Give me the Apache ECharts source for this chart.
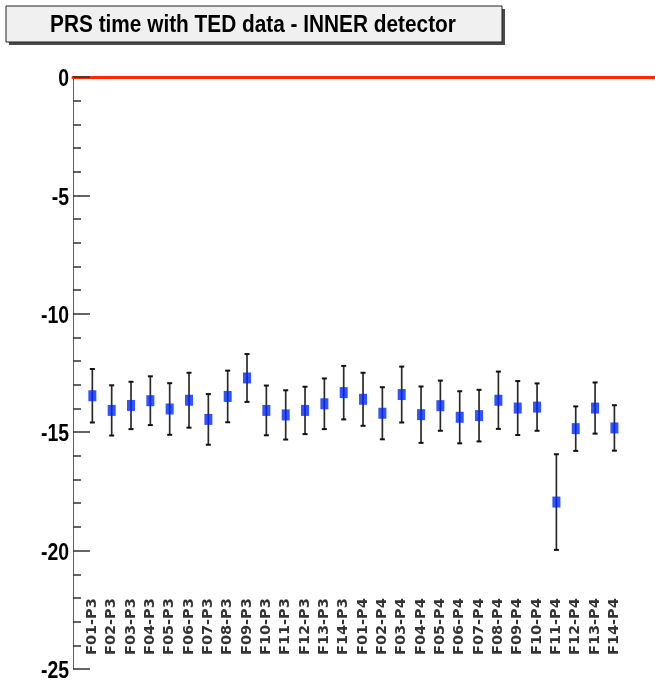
<!DOCTYPE html>
<html>
<head>
<meta charset="utf-8">
<script src="https://cdn.jsdelivr.net/npm/echarts@6/dist/echarts.min.js"></script>
<style>
  html, body { margin: 0; padding: 0; background: #fff; }
  #chart { width: 655px; height: 685px; }
</style>
</head>
<body>
<div id="chart"></div>
<script>
// PRS time per front-end board (TED data, inner detector)
const titleText = 'PRS time with TED data - INNER detector';

const categories = [
  'F01-P3', 'F02-P3', 'F03-P3', 'F04-P3', 'F05-P3', 'F06-P3', 'F07-P3',
  'F08-P3', 'F09-P3', 'F10-P3', 'F11-P3', 'F12-P3', 'F13-P3', 'F14-P3',
  'F01-P4', 'F02-P4', 'F03-P4', 'F04-P4', 'F05-P4', 'F06-P4', 'F07-P4',
  'F08-P4', 'F09-P4', 'F10-P4', 'F11-P4', 'F12-P4', 'F13-P4', 'F14-P4'
];

const meanTime = [
  -13.46, -14.08, -13.87, -13.67, -14.02, -13.65, -14.46,
  -13.49, -12.71, -14.08, -14.27, -14.08, -13.80, -13.33,
  -13.61, -14.20, -13.41, -14.26, -13.88, -14.37, -14.30,
  -13.65, -13.98, -13.94, -17.95, -14.85, -13.98, -14.82
];

const timeError = [
  1.13, 1.06, 1.00, 1.03, 1.09, 1.16, 1.07,
  1.09, 1.01, 1.05, 1.04, 1.00, 1.07, 1.13,
  1.12, 1.10, 1.18, 1.19, 1.06, 1.10, 1.09,
  1.21, 1.14, 1.00, 2.02, 0.94, 1.08, 0.96
];

const yTicks = [0, -5, -10, -15, -20, -25];
const labelBaseline = -24.41;

const boldSans = '"Liberation Sans", Arial, sans-serif';
const frameRed = '#d8321f';

const chart = echarts.init(document.getElementById('chart'), null, { renderer: 'canvas' });

const points = meanTime.map((v, i) => [i + 1, v]);
const bars = meanTime.map((v, i) => [i + 1, v - timeError[i], v + timeError[i]]);
const nameMarks = categories.map((c, i) => ({ value: [i + 1, labelBaseline], name: c }));
const tickMarks = yTicks.map(v => [0, v]);

chart.setOption({
  animation: false,
  backgroundColor: '#ffffff',
  grid: { left: 73, right: 0, top: 77, bottom: 16, containLabel: false },
  xAxis: [
    {
      type: 'value', min: 0, max: 30.1, position: 'bottom',
      axisLine: { show: true, lineStyle: { color: frameRed, width: 1.5 } },
      axisTick: { show: false }, axisLabel: { show: false }, splitLine: { show: false }
    },
    {
      type: 'value', min: 0, max: 30.1, position: 'top',
      axisLine: { show: true, lineStyle: { color: '#ff2a00', width: 3 } },
      axisTick: { show: false }, axisLabel: { show: false }, splitLine: { show: false }
    }
  ],
  yAxis: {
    type: 'value', min: -25, max: 0, interval: 5,
    axisLine: { show: true, lineStyle: { color: frameRed, width: 1 } },
    axisTick: { show: true, inside: true, length: 17, lineStyle: { color: '#333', width: 1.5 } },
    minorTick: { show: true, splitNumber: 5, length: 8, lineStyle: { color: '#333', width: 1.5 } },
    splitLine: { show: false },
    axisLabel: { show: false }
  },
  series: [
    {
      // condensed bold tick labels on the time axis
      type: 'custom',
      name: 'ticklabels',
      xAxisIndex: 0,
      data: tickMarks,
      clip: false,
      silent: true,
      renderItem: function (params, api) {
        const v = api.value(1);
        const p = api.coord([0, v]);
        return {
          type: 'text',
          x: p[0] - 4,
          y: p[1] + 2.5,
          scaleX: 0.81,
          style: {
            text: String(v),
            font: 'bold 24px ' + boldSans,
            fill: '#000',
            textAlign: 'right',
            textVerticalAlign: 'middle'
          }
        };
      }
    },
    {
      type: 'custom',
      name: 'error',
      xAxisIndex: 0,
      data: bars,
      renderItem: function (params, api) {
        const x = api.value(0);
        const lo = api.coord([x, api.value(1)]);
        const hi = api.coord([x, api.value(2)]);
        const capStyle = { stroke: '#111', lineWidth: 2 };
        return {
          type: 'group',
          children: [
            { type: 'line', shape: { x1: lo[0], y1: lo[1], x2: hi[0], y2: hi[1] }, style: { stroke: '#2b2b2b', lineWidth: 1.7 } },
            { type: 'line', shape: { x1: lo[0] - 2.5, y1: lo[1], x2: lo[0] + 2.5, y2: lo[1] }, style: capStyle },
            { type: 'line', shape: { x1: hi[0] - 2.5, y1: hi[1], x2: hi[0] + 2.5, y2: hi[1] }, style: capStyle }
          ]
        };
      },
      z: 2
    },
    {
      type: 'scatter',
      name: 'time',
      xAxisIndex: 0,
      data: points,
      symbol: 'rect',
      symbolSize: [8, 11],
      itemStyle: { color: '#0028ff' },
      z: 3
    },
    {
      type: 'scatter',
      name: 'boards',
      xAxisIndex: 0,
      data: nameMarks,
      symbolSize: 0,
      silent: true,
      label: {
        show: true,
        position: 'inside',
        rotate: 90,
        align: 'left',
        verticalAlign: 'middle',
        formatter: p => p.name,
        fontFamily: '"DejaVu Sans", sans-serif',
        fontWeight: 'bold',
        fontSize: 14.5,
        color: '#000'
      },
      z: 4
    }
  ],
  graphic: [
    { type: 'rect', shape: { x: 9, y: 9, width: 496, height: 36 }, style: { fill: '#4a4a4a' }, z: 10 },
    { type: 'rect', shape: { x: 6, y: 6, width: 496, height: 36 }, style: { fill: '#f0f0f0', stroke: '#222', lineWidth: 1 }, z: 11 },
    {
      type: 'text', x: 253, y: 25, z: 12,
      scaleX: 0.867,
      style: {
        text: titleText,
        font: 'bold 24px ' + boldSans,
        fill: '#000',
        textAlign: 'center', textVerticalAlign: 'middle'
      }
    }
  ]
});
</script>
</body>
</html>
